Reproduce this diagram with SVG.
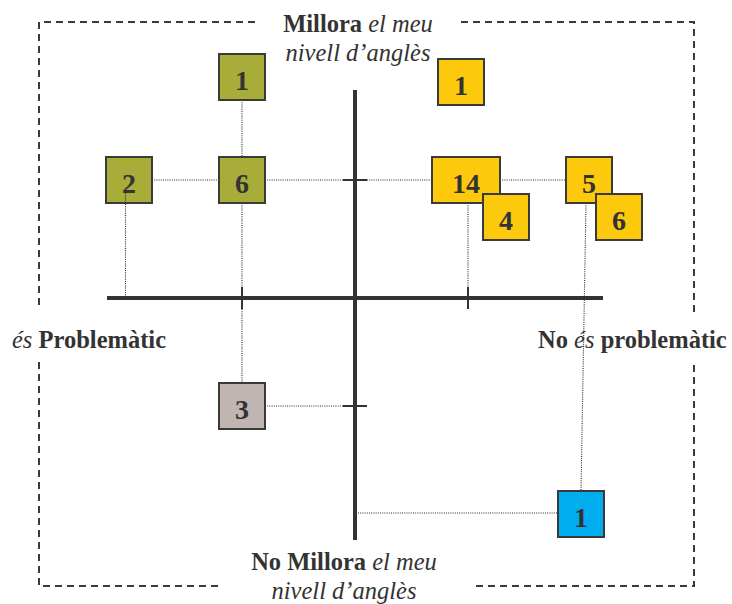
<svg xmlns="http://www.w3.org/2000/svg" width="732" height="604" viewBox="0 0 732 604">
<style>
.frame{fill:none;stroke:#3a3a3a;stroke-width:2;stroke-dasharray:7 5}
.axis{stroke:#333;stroke-width:4;fill:none}
.tick{stroke:#333;stroke-width:2;fill:none}
.dot{stroke:#2a2a2a;stroke-width:1.1;stroke-dasharray:1 1.2;fill:none}
.box{stroke:#3a3a3a;stroke-width:2}
.green{fill:#a8ad3a}
.yellow{fill:#fdc90c}
.grey{fill:#c0b5b1}
.blue{fill:#00aeef}
.num{font-family:"Liberation Serif","Times New Roman",serif;font-weight:bold;font-size:28px;fill:#333;text-anchor:middle}
.lbl{font-family:"Liberation Serif","Times New Roman",serif;font-size:24.5px;fill:#333}
.b{font-weight:bold}
.i{font-style:italic}
</style>
<g id="frame">
<path class="frame" d="M255 22 H39 V305"/>
<path class="frame" d="M461 22 H694 V313"/>
<path class="frame" d="M39 362 V586 H218"/>
<path class="frame" d="M694 365 V586 H473"/>
</g>
<g id="axes">
<line class="axis" x1="355" y1="90" x2="355" y2="540"/>
<line class="axis" x1="107" y1="298" x2="603" y2="298"/>
<line class="tick" x1="242" y1="287" x2="242" y2="309"/>
<line class="tick" x1="468" y1="287" x2="468" y2="309"/>
<line class="tick" x1="343" y1="180" x2="367" y2="180"/>
<line class="tick" x1="343" y1="406" x2="367" y2="406"/>
</g>
<g id="connectors">
<line class="dot" x1="242" y1="100" x2="242" y2="157"/>
<line class="dot" x1="152" y1="180" x2="219" y2="180"/>
<line class="dot" x1="265" y1="180" x2="343" y2="180"/>
<line class="dot" x1="242" y1="203" x2="242" y2="287"/>
<line class="dot" x1="242" y1="309" x2="242" y2="383"/>
<line class="dot" x1="265" y1="406" x2="343" y2="406"/>
<line class="dot" x1="367" y1="180" x2="432" y2="180"/>
<line class="dot" x1="500" y1="180" x2="566" y2="180"/>
<line class="dot" x1="468" y1="203" x2="468" y2="287"/>
<line class="dot" x1="586" y1="203" x2="581" y2="491"/>
<line class="dot" x1="358" y1="513" x2="558" y2="513"/>
</g>
<g id="g1"><rect class="box green" x="219" y="54" width="46" height="46"/><text class="num" x="242" y="90">1</text></g>
<g id="g2"><rect class="box green" x="106" y="157" width="46" height="46"/><text class="num" x="129" y="193">2</text></g>
<g id="g6"><rect class="box green" x="219" y="157" width="46" height="46"/><text class="num" x="242" y="193">6</text></g>
<g id="y1"><rect class="box yellow" x="438" y="59" width="46" height="46"/><text class="num" x="461" y="95">1</text></g>
<g id="y14"><rect class="box yellow" x="432" y="157" width="68" height="46"/><text class="num" x="466" y="193">14</text></g>
<g id="y4"><rect class="box yellow" x="483" y="194" width="46" height="46"/><text class="num" x="506" y="230">4</text></g>
<g id="y5"><rect class="box yellow" x="566" y="157" width="46" height="46"/><text class="num" x="589" y="193">5</text></g>
<g id="y6"><rect class="box yellow" x="596" y="194" width="46" height="46"/><text class="num" x="619" y="230">6</text></g>
<g id="gr3"><rect class="box grey" x="219" y="383" width="46" height="46"/><text class="num" x="242" y="419">3</text></g>
<g id="b1"><rect class="box blue" x="558" y="491" width="46" height="46"/><text class="num" x="581" y="527">1</text></g>
<g id="connectors-over">
<line class="dot" x1="125.5" y1="193" x2="125.5" y2="297"/>
</g>
<g id="labels">
<text class="lbl" x="358" y="32" text-anchor="middle"><tspan class="b">Millora</tspan><tspan class="i"> el meu</tspan></text>
<text class="lbl i" x="358" y="61" text-anchor="middle">nivell d’anglès</text>
<text class="lbl" x="12" y="348"><tspan class="i">és</tspan><tspan class="b"> Problemàtic</tspan></text>
<text class="lbl" x="538" y="348"><tspan class="b">No </tspan><tspan class="i">és</tspan><tspan class="b"> problemàtic</tspan></text>
<text class="lbl" x="344" y="570" text-anchor="middle"><tspan class="b">No Millora</tspan><tspan class="i"> el meu</tspan></text>
<text class="lbl i" x="344" y="599" text-anchor="middle">nivell d’anglès</text>
</g>
</svg>
